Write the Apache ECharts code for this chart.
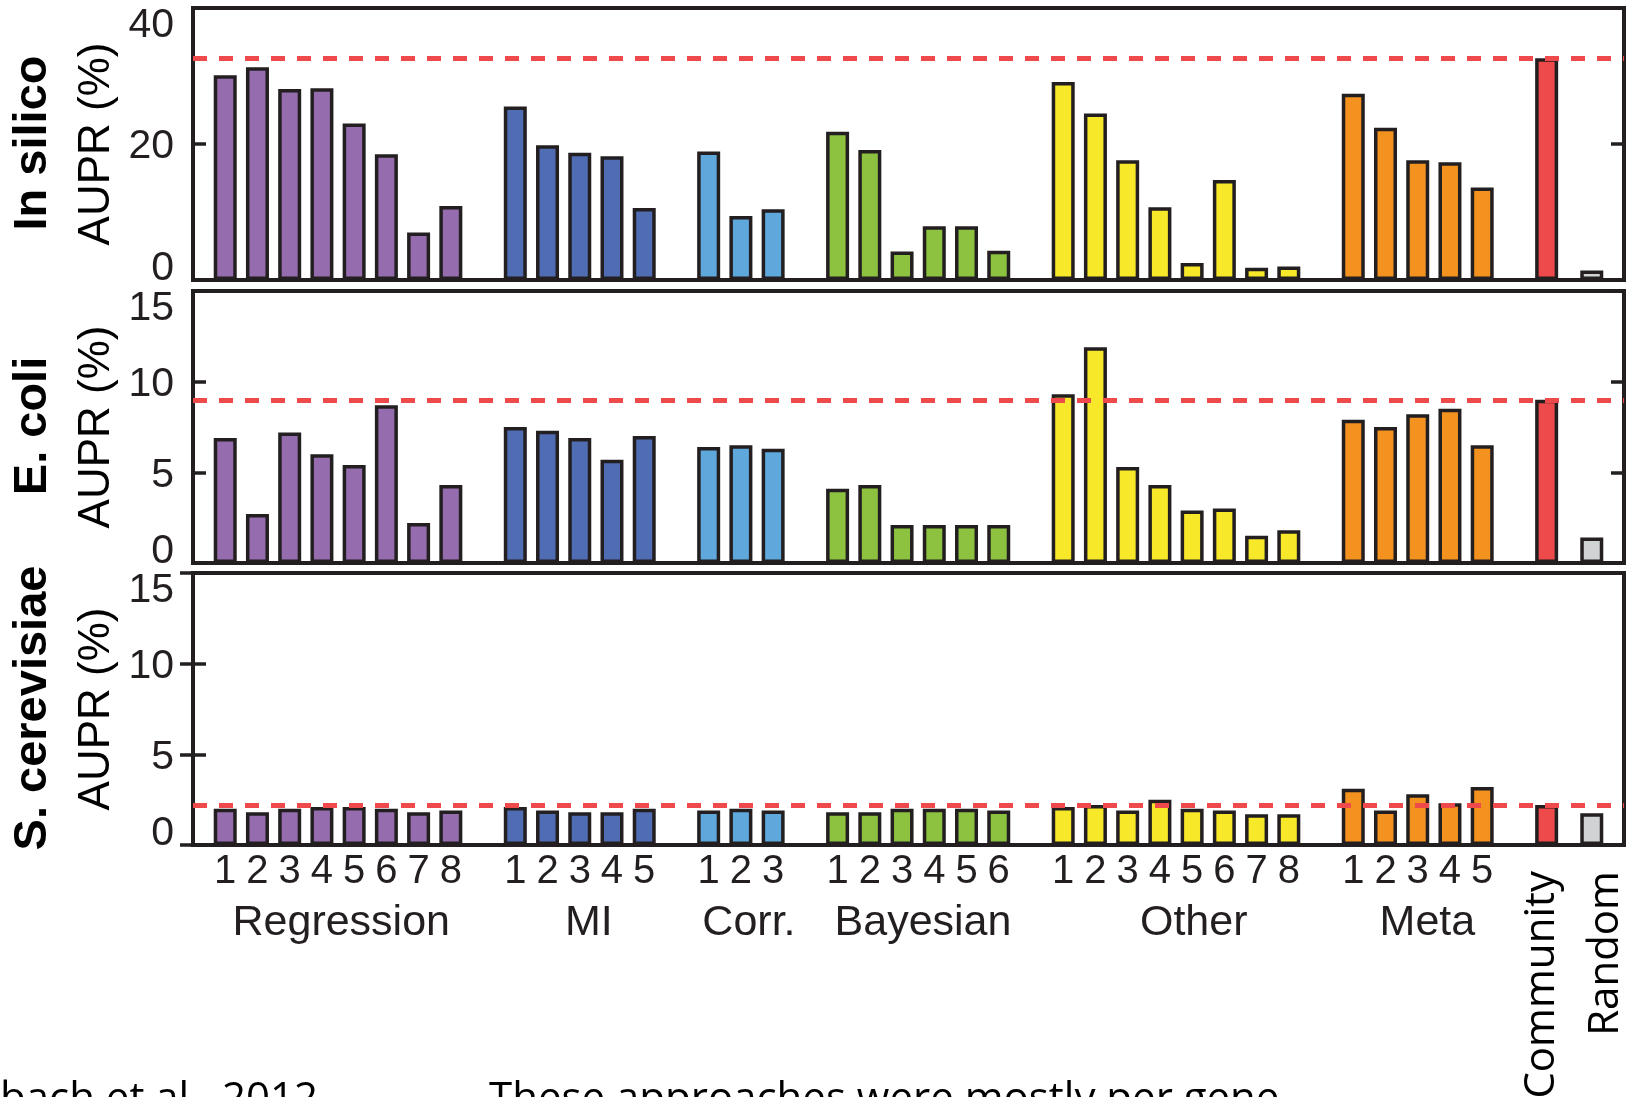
<!DOCTYPE html>
<html>
<head>
<meta charset="utf-8">
<script src="https://cdn.jsdelivr.net/npm/echarts@6/dist/echarts.min.js"></script>
<style>
  html, body { margin: 0; padding: 0; background: #ffffff; }
  #chart { width: 1627px; height: 1097px; }
</style>
</head>
<body>
<div id="chart"></div>
<script>
// ---- data -------------------------------------------------------------
const groupNames = ['Regression', 'MI', 'Corr.', 'Bayesian', 'Other', 'Meta', 'Community', 'Random'];
const groupSizes = [8, 5, 3, 6, 8, 5, 1, 1];
const panelNames = ['In silico', 'E. coli', 'S. cerevisiae'];
const yAxisMax = [40, 15, 15];
const yAxisStep = [20, 5, 5];

// AUPR (%) per method, grouped as in groupNames
const inSilico = [
  [30.1, 31.3, 28.1, 28.2, 23.0, 18.5, 7.0, 10.9],
  [25.5, 19.8, 18.7, 18.2, 10.6],
  [18.9, 9.4, 10.4],
  [21.8, 19.1, 4.2, 7.9, 7.9, 4.3],
  [29.1, 24.5, 17.6, 10.7, 2.5, 14.7, 1.8, 2.0],
  [27.4, 22.4, 17.6, 17.3, 13.6],
  [32.6],
  [1.4]
];
const eColi = [
  [6.9, 2.7, 7.2, 6.0, 5.4, 8.7, 2.2, 4.3],
  [7.5, 7.3, 6.9, 5.7, 7.0],
  [6.4, 6.5, 6.3],
  [4.1, 4.3, 2.1, 2.1, 2.1, 2.1],
  [9.3, 11.9, 5.3, 4.3, 2.9, 3.0, 1.5, 1.8],
  [7.9, 7.5, 8.2, 8.5, 6.5],
  [9.0],
  [1.4]
];
const sCerevisiae = [
  [2.0, 1.8, 2.0, 2.1, 2.1, 2.0, 1.8, 1.9],
  [2.1, 1.9, 1.8, 1.8, 2.0],
  [1.9, 2.0, 1.9],
  [1.8, 1.8, 2.0, 2.0, 2.0, 1.9],
  [2.1, 2.2, 1.9, 2.5, 2.0, 1.9, 1.7, 1.7],
  [3.1, 1.9, 2.8, 2.3, 3.2],
  [2.2],
  [1.75]
];
const panelData = [inSilico, eColi, sCerevisiae];

// ---- styling / layout -------------------------------------------------
const groupColors = ['#956cad', '#506db4', '#5fa8dc', '#8dc241', '#f7e92a', '#f3921f', '#ef4a4b', '#d1d2d4'];
const INK = '#231f20';
const DASH = '#ef4a4b';
const FONT = 'Liberation Sans, Arial, Helvetica, sans-serif';
const NOTE_FONT = 'Open Sans, Noto Sans, sans-serif';

const GRID_LEFT = 193, GRID_W = 1431, PANEL_H = 272;
const panelTops = [8, 291, 573];
const GROUP_GAP = 1;      // empty slots between method families
const TAIL_GAP = 0.4;     // narrower spacing before the Random baseline
const X_PAD_END = 1;
const groupLabelNudge = [0.1, 0.28, 0.25, 0.15, 0.55, 0.3]; // slots
const tailLabelNudge = [-5, 14]; // px, Community / Random

// slot positions for every bar along the shared x scale
const positions = [];
let cursor = 1;
groupSizes.forEach((n, g) => {
  const arr = [];
  for (let i = 0; i < n; i++) { arr.push(cursor); cursor += 1; }
  positions.push(arr);
  cursor += (g === groupSizes.length - 2) ? TAIL_GAP : GROUP_GAP;
});
const xMax = positions[positions.length - 1][0] + X_PAD_END;

// numbered tick labels (1..n within each family) and family names
const numberTicks = {};
const numberValues = [];
const familyTicks = {};
const familyValues = [];
for (let g = 0; g < 6; g++) {
  positions[g].forEach((p, i) => { numberTicks[String(p)] = String(i + 1); numberValues.push(p); });
  const c = (positions[g][0] + positions[g][positions[g].length - 1]) / 2 + groupLabelNudge[g];
  familyTicks[String(c)] = groupNames[g];
  familyValues.push(c);
}

const grids = panelTops.map(t => ({
  left: GRID_LEFT, width: GRID_W, top: t, height: PANEL_H,
  show: true, borderColor: INK, borderWidth: 4, backgroundColor: 'transparent'
}));

// y tick labels: end labels sit inside the panel, like the frame corners
const yLabelText = { fontFamily: FONT, fontSize: 41, color: INK };
const yLabelRich = {
  lo: Object.assign({ padding: [0, 0, 23, 0] }, yLabelText),
  hi: Object.assign({ padding: [36, 0, 0, 0] }, yLabelText),
  mid: Object.assign({ padding: [6, 0, 0, 0] }, yLabelText)
};

const xAxes = [];
const yAxes = [];
const series = [];
const hidden = { axisLine: { show: false }, axisTick: { show: false }, splitLine: { show: false } };

panelNames.forEach((name, k) => {
  xAxes.push(Object.assign({
    gridIndex: k, type: 'value', position: 'bottom', min: 0, max: xMax,
    axisLabel: k === 2 ? {
      customValues: numberValues,
      formatter: v => numberTicks[String(v)] || '',
      fontFamily: FONT, fontSize: 40, color: INK, margin: 7
    } : { show: false }
  }, hidden));
  const top = yAxisMax[k];
  yAxes.push({
    gridIndex: k, type: 'value', position: 'left', min: 0, max: top, interval: yAxisStep[k],
    axisLine: { show: false },
    axisTick: { inside: true, length: 13, lineStyle: { color: INK, width: 3.5 } },
    splitLine: { show: false },
    axisLabel: {
      margin: 19,
      formatter: v => v === 0 ? '{lo|' + v + '}' : (v === top ? '{hi|' + v + '}' : '{mid|' + v + '}'),
      rich: yLabelRich
    }
  });
  yAxes.push({
    gridIndex: k, type: 'value', position: 'right', min: 0, max: top, interval: yAxisStep[k],
    axisLine: { show: false },
    axisTick: { inside: true, length: 13, lineStyle: { color: INK, width: 3.5 } },
    splitLine: { show: false },
    axisLabel: { show: false }
  });

  const data = [];
  panelData[k].forEach((vals, g) => {
    vals.forEach((v, i) => {
      data.push({ value: [positions[g][i], v], itemStyle: { color: groupColors[g] } });
    });
  });
  const communityValue = panelData[k][6][0];
  series.push({
    type: 'bar', name: name,
    xAxisIndex: k, yAxisIndex: 2 * k,
    barWidth: 23,
    itemStyle: { borderColor: INK, borderWidth: 3.5 },
    data: data,
    silent: true,
    markLine: {
      silent: true, symbol: ['none', 'none'],
      label: { show: false },
      lineStyle: { color: DASH, width: 5, type: [14, 12], opacity: 1 },
      data: [{ yAxis: communityValue }]
    }
  });
});

// family names under the numbered ticks
xAxes.push(Object.assign({
  gridIndex: 2, type: 'value', position: 'bottom', min: 0, max: xMax,
  axisLabel: {
    customValues: familyValues,
    formatter: v => familyTicks[String(v)] || '',
    fontFamily: FONT, fontSize: 43, color: INK, margin: 57
  }
}, hidden));

const chart = echarts.init(document.getElementById('chart'), null, { renderer: 'canvas' });
chart.setOption({
  animation: false,
  backgroundColor: '#ffffff',
  grid: grids,
  xAxis: xAxes,
  yAxis: yAxes,
  series: series
});

// panel titles, rotated labels for the two reference bars, footnote line
const graphics = [];
panelNames.forEach((name, k) => {
  const cy = panelTops[k] + PANEL_H / 2;
  graphics.push({
    type: 'text', x: 33, y: cy - 1, rotation: Math.PI / 2,
    style: { text: name, fontFamily: FONT, fontWeight: 'bold', fontSize: 47, fill: '#000',
             align: 'center', verticalAlign: 'middle' }
  });
  graphics.push({
    type: 'text', x: 97, y: cy, rotation: Math.PI / 2,
    style: { text: 'AUPR (%)', fontFamily: FONT, fontSize: 44, fill: '#000',
             align: 'center', verticalAlign: 'middle' }
  });
});
[6, 7].forEach((g, j) => {
  const px = chart.convertToPixel({ xAxisIndex: 2 }, positions[g][0]) + tailLabelNudge[j];
  graphics.push({
    type: 'text', x: px, y: panelTops[2] + PANEL_H + 26, rotation: Math.PI / 2,
    style: { text: groupNames[g], fontFamily: NOTE_FONT, fontSize: 42, fill: '#000',
             align: 'right', verticalAlign: 'middle' }
  });
});
graphics.push({
  type: 'text', x: 0, y: 1079,
  style: { text: 'bach et al., 2012', fontFamily: NOTE_FONT, fontSize: 42, fill: '#000',
           align: 'left', verticalAlign: 'top' }
});
graphics.push({
  type: 'text', x: 489, y: 1079,
  style: { text: 'These approaches were mostly per gene', fontFamily: NOTE_FONT, fontSize: 42, fill: '#000',
           align: 'left', verticalAlign: 'top' }
});
chart.setOption({ graphic: graphics });
</script>
</body>
</html>
